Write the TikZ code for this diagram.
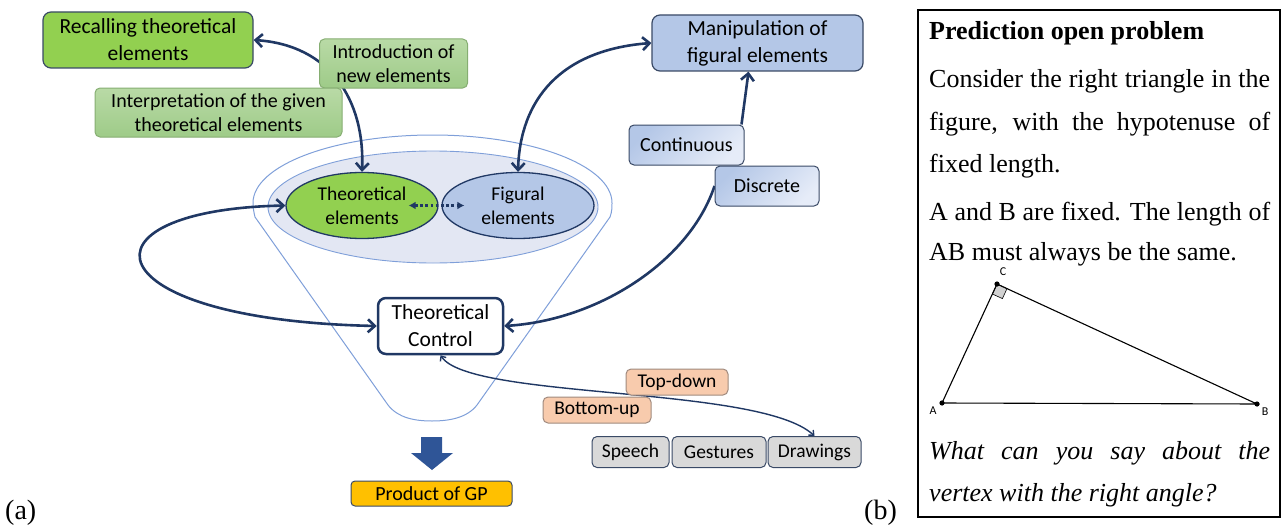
\documentclass[tikz,border=0pt]{standalone}
\usepackage{fontspec}
\setmainfont{Liberation Serif}
\newfontfamily\calibfont{Carlito}
\usetikzlibrary{arrows.meta,shapes.geometric,calc}
\definecolor{cNavy}{HTML}{203864}
\definecolor{cBorder}{HTML}{3A4A66}
\definecolor{cGreen}{HTML}{92D050}
\definecolor{cLGreenT}{HTML}{B9DAA6}
\definecolor{cLGreenB}{HTML}{9ECB88}
\definecolor{cLGreenD}{HTML}{86AE72}
\definecolor{cBlue}{HTML}{B4C7E7}
\definecolor{cBlueL}{HTML}{E6ECF8}
\definecolor{cFunnel}{HTML}{7F9FD9}
\definecolor{cFunnelF}{HTML}{E3E7F3}
\definecolor{cPeach}{HTML}{F8CBAD}
\definecolor{cPeachD}{HTML}{A08A7E}
\definecolor{cGrayL}{HTML}{D9D9D9}
\definecolor{cGold}{HTML}{FFC000}
\definecolor{cBlockArrow}{HTML}{2F5597}
\pgfdeclarelayer{bg}
\pgfdeclarelayer{mid}
\pgfsetlayers{bg,mid,main}
\begin{document}
\begin{tikzpicture}[x=1pt,y=-1pt,
  box/.style={draw=cBorder, line width=1.2pt, rounded corners=8pt, align=center, inner sep=0pt,
    font=\calibfont\fontsize{21.5}{27}\selectfont},
  lab/.style={draw=cBorder, line width=1pt, rounded corners=5pt, align=center, inner sep=0pt,
    font=\calibfont\fontsize{20}{24}\selectfont},
  greenlab/.style={draw=cLGreenD, top color=cLGreenT, bottom color=cLGreenB},
  bluelab/.style={top color=cBlue, bottom color=cBlueL, shading angle=45},
  peach/.style={draw=cPeachD, fill=cPeach, font=\calibfont\fontsize{19.5}{23}\selectfont},
  grayl/.style={fill=cGrayL, font=\calibfont\fontsize{19.5}{23}\selectfont},
  ell/.style={ellipse, draw=cNavy, line width=1.3pt, minimum width=152pt, minimum height=66pt,
    inner sep=0pt, align=center, font=\calibfont\fontsize{19.5}{24}\selectfont},
  bigarr/.style={draw=cNavy, line width=2.6pt, >={Straight Barb[length=7pt,width=13pt]}},
  thinarr/.style={draw=cNavy, line width=1.4pt,
    {Straight Barb[length=4pt,width=7pt]}-{Straight Barb[length=4pt,width=7pt]}},
  ptext/.style={anchor=base west, inner sep=0pt, font=\fontsize{26}{30}\selectfont},
  trilab/.style={inner sep=0pt, font=\calibfont\fontsize{12}{14}\selectfont}
]
\useasboundingbox (0,0) rectangle (1282,527);

% ---------- nodes ----------
\node[box, fill=cGreen, minimum width=210pt, minimum height=56pt] (rec) at (148,40) {Recalling theoretical\\elements};
\node[lab, greenlab, anchor=west, minimum height=49pt, inner xsep=13pt] (intro) at (319,63.5) {Introduction of\\new elements};
\node[lab, greenlab, minimum width=247pt, minimum height=49pt] (interp) at (218.5,112.5) {Interpretation of the given\\theoretical elements};
\node[box, fill=cBlue, minimum width=211pt, minimum height=56pt] (man) at (757.5,43) {Manipulation of\\figural elements};
\node[lab, bluelab, minimum width=115pt, minimum height=40pt] (cont) at (686.5,145) {Continuous};
\node[lab, bluelab, minimum width=104pt, minimum height=40pt] (disc) at (767,186) {Discrete};
\node[ell, fill=cGreen] (te) at (362,205.5) {Theoretical\\elements};
\node[ell, fill=cBlue] (fe) at (518,205.5) {Figural\\elements};
\node[box, draw=cNavy, line width=2.5pt, fill=white, minimum width=125pt, minimum height=56pt] (tc) at (440.5,326) {Theoretical\\Control};
\node[lab, peach, minimum width=102pt, minimum height=26pt] (td) at (677,382) {Top-down};
\node[lab, peach, minimum width=108pt, minimum height=26pt] (bu) at (597,410) {Bottom-up};
\node[lab, grayl, minimum width=77pt, minimum height=31pt] (sp) at (630.5,452) {Speech};
\node[lab, grayl, minimum width=94pt, minimum height=31pt] (ge) at (719,452) {Gestures};
\node[lab, grayl, minimum width=93pt, minimum height=31pt] (dr) at (814.5,452) {Drawings};
\node[lab, fill=cGold, rounded corners=4pt, minimum width=161pt, minimum height=25pt] (prod) at (431.5,493.5) {Product of GP};

% block arrow
\fill[cBlockArrow] (421,437) -- (442,437) -- (442,453) -- (453,453) -- (432,470) -- (411,453) -- (421,453) -- cycle;

% dotted double arrow
\draw[cNavy, line width=2.6pt, dash pattern=on 2.6pt off 2.6pt,
  {Latex[length=7pt,width=8pt]}-{Latex[length=7pt,width=8pt]}]
  ([xshift=-30pt]te.east) -- ([xshift=23pt]fe.west);

% ---------- connectors ----------
\begin{pgfonlayer}{mid}
\draw[bigarr, <->] (rec.east) .. controls (330,45) and (365,100) .. (te.north);
\draw[bigarr, <->] (man.west) .. controls (560,50) and (520,100) .. (fe.north);
\draw[bigarr, ->] ([xshift=-3pt]cont.north east) .. controls (745,100) .. ([xshift=-9pt]man.south);
\draw[bigarr, ->] (disc.west) .. controls (690,260) and (600,320) .. (tc.east);
\draw[bigarr, <->] (te.west) .. controls (70,210) and (90,320) .. (tc.west);
\draw[thinarr] (tc.south) .. controls (470,400) and (760,385) .. (dr.north);
\end{pgfonlayer}

% ---------- funnel ----------
\begin{pgfonlayer}{bg}
\draw[cFunnel, line width=1pt] (255,217) -- (388,405) .. controls (398,418) and (415,421) .. (432,421)
  .. controls (449,421) and (467,418) .. (477,405) -- (610,217)
  .. controls (612,212) and (612,207) .. (612,203)
  .. controls (612,165.5) and (531.6,135) .. (432.5,135)
  .. controls (333.4,135) and (253,165.5) .. (253,203)
  .. controls (253,208) and (254,213) .. (255,217);
\draw[cFunnel, line width=0.9pt, fill=cFunnelF] (433,207) ellipse [x radius=165, y radius=56];
\end{pgfonlayer}

% ---------- sub-figure labels ----------
\node[anchor=base west, inner sep=0pt, font=\fontsize{28}{30}\selectfont] (la) at (5,519) {(a)};
\node[anchor=base west, inner sep=0pt, font=\fontsize{28}{30}\selectfont] (lb) at (864,519) {(b)};

% ---------- right panel ----------
\draw[line width=1.3pt] (918,10) rectangle (1280,517);
\node[ptext] (t1) at (929,40) {\bfseries Prediction open problem};
\node[ptext] (t2) at (929,88) {\makebox[341pt][s]{Consider the right triangle in the}};
\node[ptext] (t3) at (929,130) {\makebox[341pt][s]{figure, with the hypotenuse of}};
\node[ptext] (t4) at (929,172) {fixed length.};
\node[ptext] (t5) at (929,220) {\makebox[341pt][s]{A and B are fixed. The length of}};
\node[ptext] (t6) at (929,260) {AB must always be the same.};
\node[ptext] (t7) at (929,459) {\itshape\makebox[341pt][s]{What can you say about the}};
\node[ptext] (t8) at (929,501) {\itshape vertex with the right angle?};

% triangle
\coordinate (A) at (942,403);
\coordinate (B) at (1257,404);
\coordinate (C) at (997,284);
\draw[fill=black!18, line width=0.6pt] (C) -- (992.4,294) -- (1002.4,298.6) -- (1007,288.6) -- cycle;
\draw[line width=1.1pt] (A) -- (B) -- (C) -- cycle;
\fill (A) circle (2.6pt) (B) circle (2.6pt) (C) circle (2.6pt);
\node[trilab] (lC) at (1003,272) {C};
\node[trilab] (lA) at (933,411) {A};
\node[trilab] (lB) at (1265,412) {B};
\end{tikzpicture}
\end{document}
